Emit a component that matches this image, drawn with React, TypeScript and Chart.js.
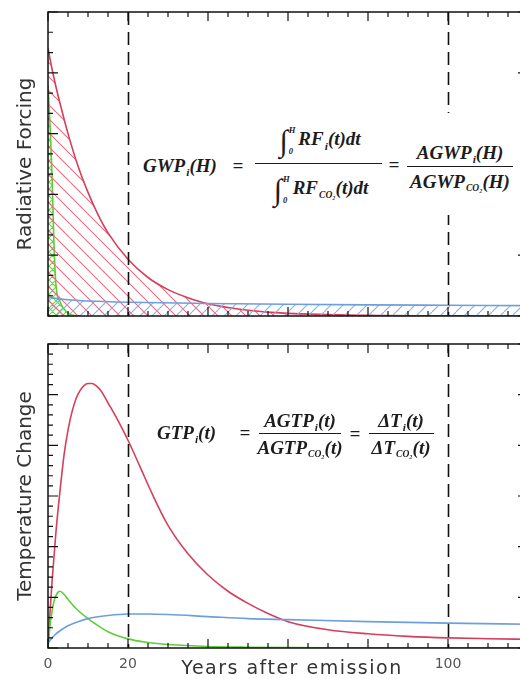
import React, { useEffect, useRef } from 'react';
import { Chart, registerables } from 'chart.js';

Chart.register(...registerables);

// ---------- data ----------
const markerYears = [20, 100];
const labeledYears = [0, 20, 100];

// Radiative forcing panel (arbitrary units, 0..15)
const rfRedYears = [0, 1, 2, 3, 5, 7.5, 10, 12.5, 15, 20, 25, 30, 35, 40, 50, 60, 80, 100, 120];
const rfRed = [13.2, 12.2, 11.3, 10.5, 9.0, 7.4, 6.1, 5.0, 4.1, 2.8, 1.9, 1.3, 0.9, 0.6, 0.28, 0.13, 0.03, 0.01, 0];
const rfGreenYears = [0, 0.5, 1, 1.5, 2, 3, 4, 5, 6, 8];
const rfGreen = [11.4, 9.5, 7.0, 3.5, 1.5, 0.7, 0.35, 0.15, 0.05, 0];
const rfBlueYears = [0, 2, 5, 10, 20, 40, 60, 80, 100, 120];
const rfBlue = [0.95, 0.87, 0.8, 0.74, 0.68, 0.62, 0.58, 0.55, 0.53, 0.51];

// Temperature change panel (arbitrary units, 0..30)
const dtRedYears = [0, 0.5, 1, 1.5, 2, 3, 4, 5, 6, 7, 8, 9, 10, 11, 12, 13, 14, 15, 17, 20, 23, 26, 30, 35, 40, 45, 50, 55, 60, 70, 80, 90, 100, 110, 120];
const dtRed = [0, 3.5, 6.5, 9, 11.5, 15.5, 19, 21.5, 23.3, 24.6, 25.4, 25.9, 26.1, 26.1, 25.9, 25.5, 24.9, 24.2, 22.8, 20.5, 17.9, 15.25, 12.1, 9.3, 7.2, 5.6, 4.4, 3.4, 2.6, 1.8, 1.4, 1.15, 1.0, 0.92, 0.86];
const dtGreenYears = [0, 0.5, 1, 1.5, 2, 3, 4, 5, 7, 10, 12.5, 15, 20, 25, 30, 40, 50, 70, 100, 120];
const dtGreen = [0, 2.2, 3.6, 4.6, 5.2, 5.6, 5.3, 4.8, 3.9, 2.9, 2.2, 1.6, 0.9, 0.55, 0.35, 0.15, 0.08, 0.03, 0.02, 0.02];
const dtBlueYears = [0, 1, 2, 3, 5, 7.5, 10, 15, 20, 25, 30, 40, 50, 60, 80, 100, 120];
const dtBlue = [0.5, 1.0, 1.4, 1.7, 2.2, 2.6, 2.9, 3.2, 3.35, 3.35, 3.3, 3.1, 2.9, 2.8, 2.6, 2.45, 2.35];

// ---------- styles ----------
const RED = '#d63f5b';
const GREEN = '#5ccf34';
const BLUE = '#6d9fdc';

const pts = (xs: number[], ys: number[]) => xs.map((x, i) => ({ x, y: ys[i] }));

function hatch(target: CanvasRenderingContext2D, color: string, size: number, dir: string, lw: number) {
  const c = document.createElement('canvas');
  c.width = size;
  c.height = size;
  const g = c.getContext('2d')!;
  g.strokeStyle = color;
  g.lineWidth = lw;
  g.beginPath();
  for (let k = -1; k <= 1; k++) {
    if (dir === '\\' || dir === 'x') {
      g.moveTo(k * size, 0);
      g.lineTo(k * size + size, size);
    }
    if (dir === '/' || dir === 'x') {
      g.moveTo(k * size, size);
      g.lineTo(k * size + size, 0);
    }
  }
  g.stroke();
  return target.createPattern(c, 'repeat');
}

const framePlugin = {
  id: 'frame',
  afterDatasetsDraw(chart: any, _args: any, opts: any) {
    const { ctx, chartArea: a, scales } = chart;
    const x = scales.x;
    const y = scales.y;
    ctx.save();
    ctx.strokeStyle = '#111';
    ctx.lineWidth = 1.6;
    ctx.setLineDash([13, 7]);
    for (const m of opts.markers) {
      const px = Math.round(x.getPixelForValue(m)) + 0.5;
      ctx.beginPath();
      ctx.moveTo(px, a.top);
      ctx.lineTo(px, a.bottom);
      ctx.stroke();
    }
    ctx.setLineDash([]);
    ctx.lineWidth = 1.2;
    for (let v = x.min; v <= x.max + 1e-9; v += opts.xMinor) {
      const px = x.getPixelForValue(v);
      const len = Math.abs(v % opts.xMajor) < 1e-9 ? 9 : 5;
      ctx.beginPath();
      ctx.moveTo(px, a.bottom);
      ctx.lineTo(px, a.bottom - len);
      ctx.moveTo(px, a.top);
      ctx.lineTo(px, a.top + len);
      ctx.stroke();
    }
    for (let v = y.min; v <= y.max + 1e-9; v += opts.yMinor) {
      const py = y.getPixelForValue(v);
      const len = Math.abs(v % opts.yMajor) < 1e-9 ? 10 : 5;
      ctx.beginPath();
      ctx.moveTo(a.left, py);
      ctx.lineTo(a.left + len, py);
      ctx.moveTo(a.right, py);
      ctx.lineTo(a.right - len, py);
      ctx.stroke();
    }
    ctx.lineWidth = 1.5;
    ctx.strokeRect(a.left, a.top, a.right - a.left, a.bottom - a.top);
    ctx.restore();
  },
};

const titleFont = { family: '"DejaVu Sans", sans-serif', size: 20 };

function lineSet(data: any[], color: string, fillPattern: any) {
  return {
    data,
    borderColor: color,
    borderWidth: 1.6,
    pointRadius: 0,
    cubicInterpolationMode: 'monotone',
    fill: fillPattern ? 'origin' : false,
    backgroundColor: fillPattern || 'transparent',
  };
}

function baseOptions(yMax: number, yTitle: string, padTop: number, xHeight: number, showTicks: boolean, yMajor: number) {
  return {
    responsive: false,
    animation: false,
    devicePixelRatio: 1,
    events: [],
    layout: { padding: { top: padTop, right: 12, left: 0, bottom: 0 } },
    plugins: {
      legend: { display: false },
      tooltip: { enabled: false },
      frame: { markers: markerYears, xMinor: 5, xMajor: 20, yMinor: 1, yMajor },
    },
    scales: {
      x: {
        type: 'linear',
        min: 0,
        max: 120,
        grid: { display: false },
        border: { display: false },
        ticks: {
          display: showTicks,
          stepSize: 20,
          autoSkip: false,
          maxRotation: 0,
          padding: 0,
          color: '#555',
          font: { family: '"DejaVu Sans", sans-serif', size: 14 },
          callback: (v: number) => (labeledYears.includes(v) ? String(v) : ''),
        },
        afterFit: (s: any) => {
          s.height = xHeight;
        },
      },
      y: {
        min: 0,
        max: yMax,
        grid: { display: false },
        border: { display: false },
        ticks: { display: false },
        title: { display: true, text: yTitle, color: '#333', font: titleFont, padding: { top: 14, bottom: 0 } },
        afterFit: (s: any) => {
          s.width = 48;
        },
      },
    },
  };
}

// ---------- equation pieces ----------
const serif = '"Liberation Serif", "Times New Roman", "DejaVu Serif", serif';
const eqStyle: React.CSSProperties = {
  fontFamily: serif,
  fontStyle: 'italic',
  fontWeight: 'bold',
  fontSize: 19,
  color: '#1c1c1c',
  lineHeight: 1,
  whiteSpace: 'nowrap',
  position: 'absolute',
};

const Sub = ({ children, small }: { children: React.ReactNode; small?: boolean }) => (
  <span style={{ fontSize: small ? '0.5em' : '0.6em', position: 'relative', top: '0.35em', marginLeft: 1 }}>{children}</span>
);

const Integral = () => (
  <span style={{ display: 'inline-flex', alignItems: 'center', marginRight: 3, verticalAlign: 'middle' }}>
    <span style={{ fontSize: '1.6em', fontWeight: 'normal', fontStyle: 'normal', lineHeight: 1 }}>∫</span>
    <span style={{ display: 'inline-flex', flexDirection: 'column', fontSize: '0.45em', lineHeight: 1.1, marginLeft: 1 }}>
      <span style={{ position: 'relative', top: '-0.7em' }}>H</span>
      <span style={{ position: 'relative', top: '0.7em' }}>0</span>
    </span>
  </span>
);

const At = ({ x, y, center, children }: { x: number; y: number; center?: boolean; children: React.ReactNode }) => (
  <div style={{ ...eqStyle, left: x, top: y, transform: `translate(${center ? '-50%' : '0'}, -50%)` }}>{children}</div>
);

const Bar = ({ x, y, w }: { x: number; y: number; w: number }) => (
  <div style={{ position: 'absolute', left: x, top: y, width: w, height: 0, borderTop: '1.4px solid #1c1c1c' }} />
);

export default function App() {
  const topRef = useRef<HTMLCanvasElement>(null);
  const botRef = useRef<HTMLCanvasElement>(null);

  useEffect(() => {
    const c1 = topRef.current!;
    const c2 = botRef.current!;
    const ctx1 = c1.getContext('2d')!;
    const redHatch = hatch(ctx1, '#ea6a82', 14, '\\', 1.1);
    const blueHatch = hatch(ctx1, '#7fb2ec', 12, '/', 1.1);
    const greenHatch = hatch(ctx1, '#6ad444', 7, 'x', 1.1);

    const top = new Chart(c1, {
      type: 'line',
      data: {
        datasets: [
          lineSet(pts(rfBlueYears, rfBlue), BLUE, blueHatch),
          lineSet(pts(rfRedYears, rfRed), RED, redHatch),
          lineSet(pts(rfGreenYears, rfGreen), GREEN, greenHatch),
        ] as any,
      },
      options: baseOptions(15, 'Radiative Forcing', 12, 14, false, 3) as any,
      plugins: [framePlugin as any],
    });

    const bottom = new Chart(c2, {
      type: 'line',
      data: {
        datasets: [
          lineSet(pts(dtBlueYears, dtBlue), BLUE, null),
          lineSet(pts(dtGreenYears, dtGreen), GREEN, null),
          lineSet(pts(dtRedYears, dtRed), RED, null),
        ] as any,
      },
      options: baseOptions(30, 'Temperature Change', 14, 31, true, 5) as any,
      plugins: [framePlugin as any],
    });

    return () => {
      top.destroy();
      bottom.destroy();
    };
  }, []);

  return (
    <div style={{ position: 'fixed', left: 0, top: 0, width: 520, height: 679, overflow: 'hidden', background: '#fff' }}>
      <canvas ref={topRef} width={540} height={330} style={{ position: 'absolute', left: 0, top: 0 }} />
      <canvas ref={botRef} width={540} height={349} style={{ position: 'absolute', left: 0, top: 330 }} />

      {/* GWP equation */}
      <div style={{ position: 'absolute', left: 140, top: 113, width: 385, height: 102, background: '#fff' }} />
      <At x={143} y={165}>
        GWP<Sub>i</Sub>(H)
      </At>
      <At x={238} y={165} center>
        =
      </At>
      <At x={320} y={141} center>
        <Integral />
        RF<Sub>i</Sub>(t)dt
      </At>
      <Bar x={255} y={163} w={127} />
      <At x={321} y={190} center>
        <Integral />
        RF<Sub small>CO₂</Sub>(t)dt
      </At>
      <At x={394} y={164} center>
        =
      </At>
      <At x={460} y={152} center>
        AGWP<Sub>i</Sub>(H)
      </At>
      <Bar x={407} y={166} w={106} />
      <At x={460} y={181} center>
        AGWP<Sub small>CO₂</Sub>(H)
      </At>

      {/* GTP equation */}
      <At x={157} y={432}>
        GTP<Sub>i</Sub>(t)
      </At>
      <At x={245} y={432} center>
        =
      </At>
      <At x={300} y={420} center>
        AGTP<Sub>i</Sub>(t)
      </At>
      <Bar x={259} y={433} w={82} />
      <At x={300} y={447} center>
        AGTP<Sub small>CO₂</Sub>(t)
      </At>
      <At x={355} y={433} center>
        =
      </At>
      <At x={401} y={420} center>
        ΔT<Sub>i</Sub>(t)
      </At>
      <Bar x={369} y={433} w={65} />
      <At x={401} y={447} center>
        ΔT<Sub small>CO₂</Sub>(t)
      </At>

      <div
        style={{
          position: 'absolute',
          left: 292,
          top: 667,
          transform: 'translate(-50%, -50%)',
          fontFamily: '"DejaVu Sans", sans-serif',
          fontSize: 19,
          letterSpacing: 1.5,
          color: '#333',
          whiteSpace: 'nowrap',
          lineHeight: 1,
        }}
      >
        Years after emission
      </div>
    </div>
  );
}
